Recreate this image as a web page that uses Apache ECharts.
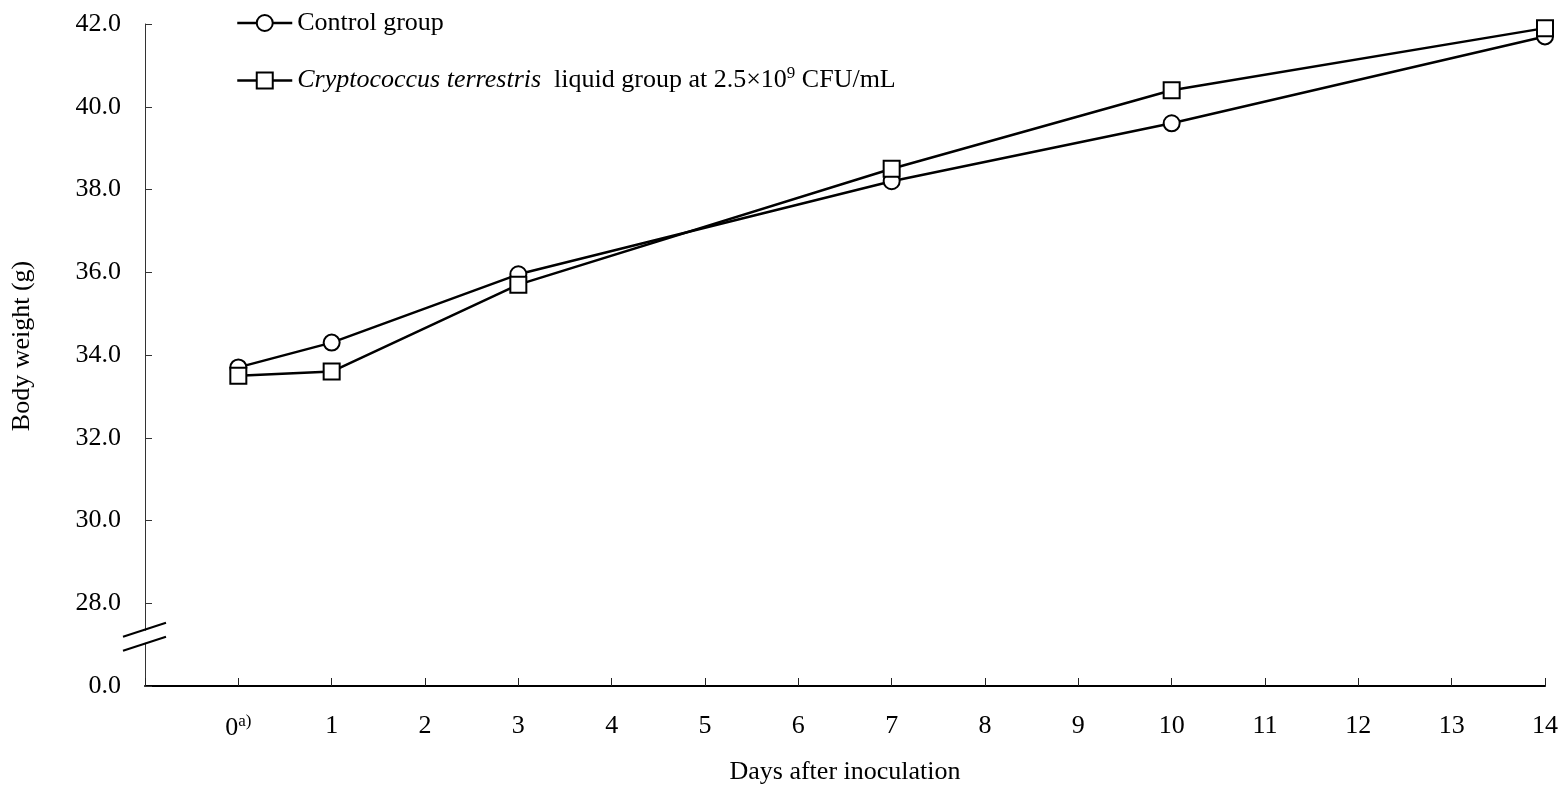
<!DOCTYPE html>
<html>
<head>
<meta charset="utf-8">
<script src="https://cdn.jsdelivr.net/npm/echarts@6/dist/echarts.min.js"></script>
<style>
  html, body { margin: 0; padding: 0; background: #fff; }
  #chart { width: 1567px; height: 791px; }
</style>
</head>
<body>
<div id="chart"></div>
<script>
// Days after inoculation at which body weight was measured
const days = [0, 1, 3, 7, 10, 14];
// Mean body weight (g)
const controlWeights = [33.7, 34.3, 35.95, 38.2, 39.6, 41.7];
const cryptoWeights = [33.5, 33.6, 35.7, 38.5, 40.4, 41.9];
// Series names
const seriesNames = ['Control group', 'Cryptococcus terrestris group'];
// Y axis: the lowest tick stands for 0.0 (axis break below 28.0)
const yBreakValue = 26;
const yBreakLabel = '0.0';

const FONT = '"Liberation Serif", "Times New Roman", serif';
const FS = 26;

const chart = echarts.init(document.getElementById('chart'), null, { renderer: 'canvas' });

function pairs(xs, ys) { return xs.map((x, i) => [x, ys[i]]); }

const option = {
  backgroundColor: '#fff',
  animation: false,
  textStyle: { fontFamily: FONT, color: '#000' },
  grid: { left: 145, right: 22, top: 24, bottom: 105, containLabel: false, outerBoundsMode: 'none' },
  legend: {
    orient: 'vertical',
    left: 236,
    top: 10,
    padding: 0,
    itemWidth: 55,
    itemHeight: 20,
    itemGap: 29,
    data: seriesNames,
    lineStyle: { color: '#000', width: 2.5 },
    itemStyle: { color: '#fff', borderColor: '#000', borderWidth: 2 },
    textStyle: {
      fontFamily: FONT, fontSize: FS, color: '#000',
      rich: {
        i: { fontFamily: FONT, fontSize: FS, fontStyle: 'italic', color: '#000' },
        n: { fontFamily: FONT, fontSize: FS, color: '#000' },
        s: { fontFamily: FONT, fontSize: 17, color: '#000', verticalAlign: 'top', padding: [0, 0, 14, 0] }
      }
    },
    formatter: function (name) {
      if (name === seriesNames[1]) {
        return '{i|Cryptococcus terrestris}{n|  liquid group at 2.5×10}{s|9}{n| CFU/mL}';
      }
      return name;
    }
  },
  xAxis: {
    type: 'value',
    min: -1,
    max: 14,
    interval: 1,
    name: 'Days after inoculation',
    nameLocation: 'middle',
    nameGap: 73,
    nameTextStyle: { fontFamily: FONT, fontSize: FS, color: '#000' },
    axisLine: { show: true, onZero: false, lineStyle: { color: '#000', width: 2 } },
    axisTick: { show: true, inside: true, length: 8, lineStyle: { color: '#222', width: 1 } },
    splitLine: { show: false },
    axisLabel: {
      margin: 27,
      fontFamily: FONT, fontSize: FS, color: '#000',
      formatter: function (v) {
        if (v < 0) return '';
        if (v === 0) return '0{s|a)}';
        return String(v);
      },
      rich: {
        s: { fontFamily: FONT, fontSize: 17, color: '#000', verticalAlign: 'top', padding: [0, 0, 14, 0] }
      }
    }
  },
  yAxis: {
    type: 'value',
    min: yBreakValue,
    max: 42,
    interval: 2,
    name: 'Body weight (g)',
    nameLocation: 'middle',
    nameGap: 110,
    nameTextStyle: { fontFamily: FONT, fontSize: FS, color: '#000', padding: [0, 0, 0, 18] },
    axisLine: { show: true, onZero: false, lineStyle: { color: '#333', width: 1 } },
    axisTick: { show: true, inside: true, length: 7, lineStyle: { color: '#333', width: 1 } },
    splitLine: { show: false },
    axisLabel: {
      margin: 24,
      fontFamily: FONT, fontSize: FS, color: '#000',
      formatter: function (v) { return v === yBreakValue ? yBreakLabel : v.toFixed(1); }
    }
  },
  series: [
    {
      name: seriesNames[0],
      type: 'line',
      data: pairs(days, controlWeights),
      symbol: 'circle',
      symbolSize: 16,
      lineStyle: { color: '#000', width: 2.5 },
      itemStyle: { color: '#fff', borderColor: '#000', borderWidth: 2 },
      z: 2
    },
    {
      name: seriesNames[1],
      type: 'line',
      data: pairs(days, cryptoWeights),
      symbol: 'rect',
      symbolSize: 16,
      lineStyle: { color: '#000', width: 2.5 },
      itemStyle: { color: '#fff', borderColor: '#000', borderWidth: 2 },
      z: 3
    }
  ]
};

chart.setOption(option);

// Axis-break marks on the y axis between the 0.0 and 28.0 ticks
const axisX = chart.convertToPixel({ gridIndex: 0 }, [-1, 27])[0];
const lowY = chart.convertToPixel({ gridIndex: 0 }, [-1, 27.02])[1];
const highY = chart.convertToPixel({ gridIndex: 0 }, [-1, 27.36])[1];
function slash(cy) {
  return {
    type: 'line',
    shape: { x1: axisX - 22, y1: cy + 7, x2: axisX + 21, y2: cy - 7 },
    style: { stroke: '#000', lineWidth: 2 },
    z: 100
  };
}
chart.setOption({
  graphic: [
    {
      type: 'rect',
      shape: { x: axisX - 3, y: highY + 1, width: 6, height: lowY - highY - 2 },
      style: { fill: '#fff' },
      z: 99
    },
    slash(highY),
    slash(lowY)
  ]
});
</script>
</body>
</html>
